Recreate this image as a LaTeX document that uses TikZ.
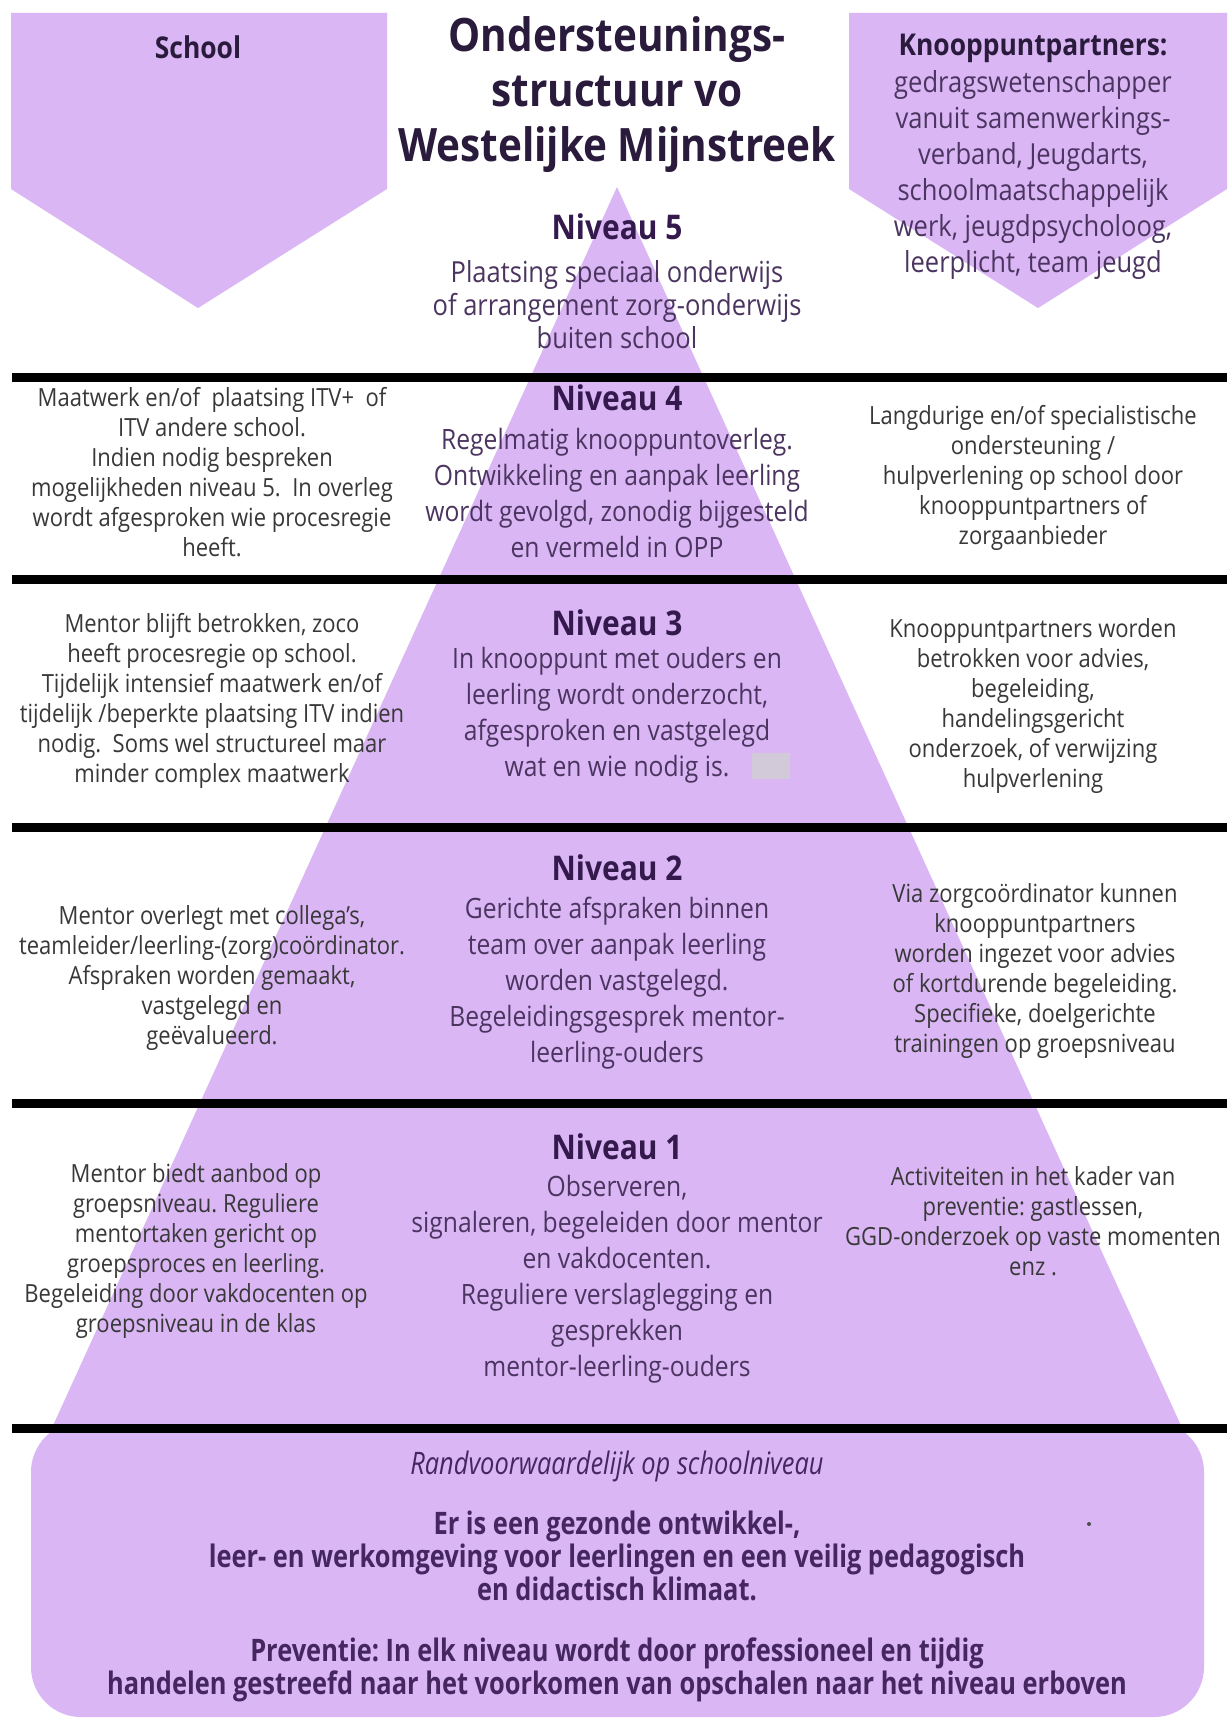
\documentclass[tikz,border=0pt]{standalone}
\usepackage{fontspec}
\setmainfont{Open Sans}[FakeStretch=0.88]
\newfontfamily\condfont{Open Sans}[FakeStretch=0.82]
\definecolor{lav}{HTML}{DAB6F5}
\definecolor{titlec}{HTML}{2A1B3D}
\definecolor{headc}{HTML}{34194D}
\definecolor{centc}{HTML}{4B3560}
\definecolor{sidec}{HTML}{383838}
\definecolor{botc}{HTML}{45265E}
\definecolor{smudge}{HTML}{D2CAD8}
\tikzset{
  lavfill/.style={fill=lav},
  sepline/.style={line width=4.5pt, draw=black},
  sidetxt/.style={align=center, inner sep=0pt, text=sidec, font=\fontsize{12.5}{15}\selectfont},
  cbody/.style={align=center, inner sep=0pt, text=centc, font=\fontsize{14}{18}\selectfont},
  lvl/.style={inner sep=0pt, text=headc, font=\bfseries\fontsize{17}{20}\selectfont},
  hdr/.style={inner sep=0pt, text=titlec, font=\bfseries\fontsize{15}{18}\selectfont},
  bottxt/.style={align=center, inner sep=0pt, text=botc, font=\condfont\bfseries\fontsize{15.5}{16.5}\selectfont}
}
\begin{document}
\frenchspacing
\begin{tikzpicture}[x=0.5pt,y=-0.5pt]
\useasboundingbox (0,0) rectangle (1227,1722);
\fill[white] (0,0) rectangle (1227,1722);
% side arrows
\fill[lavfill] (11,13) -- (387,13) -- (387,189) -- (198,308) -- (11,189) -- cycle;
\fill[lavfill] (849,13) -- (1227,13) -- (1227,189) -- (1038,308) -- (849,189) -- cycle;
% pyramid and base box
\fill[lavfill] (617,187) -- (1183,1430) -- (51,1430) -- cycle;
\fill[lavfill, rounded corners=25pt] (31,1422) rectangle (1204,1717);
% smudges
\fill[smudge] (752,753) rectangle (790,779);
\fill[black!70] (1089,1524) circle (2);
% separator lines
\draw[sepline] (12,377) -- (1227,377);
\draw[sepline] (12,579) -- (1227,579);
\draw[sepline] (12,827) -- (1227,827);
\draw[sepline] (12,1103) -- (1227,1103);
\draw[sepline] (12,1428) -- (1227,1428);
% header texts
\node[align=center, inner sep=0pt, text=titlec, font=\bfseries\fontsize{23}{27.5}\selectfont] (title) at (617,95) {Ondersteunings-\\structuur vo\\Westelijke Mijnstreek};
\node[hdr] (school) at (198,47) {School};
\node[hdr] (kphead) at (1033,48) {Knooppuntpartners:};
\node[align=center, inner sep=0pt, text=centc, font=\fontsize{14.5}{18}\selectfont] (kpbody) at (1033,175) {gedragswetenschapper\\vanuit samenwerkings-\\verband, Jeugdarts,\\schoolmaatschappelijk\\werk, jeugdpsycholoog,\\leerplicht, team jeugd};
% niveau 5
\node[lvl] (n5) at (617,227) {Niveau 5};
\node[cbody, font=\fontsize{14.5}{16.5}\selectfont] (n5c) at (617,305) {Plaatsing speciaal onderwijs\\of arrangement zorg-onderwijs\\buiten school};
% niveau 4
\node[sidetxt] (n4l) at (212,472) {Maatwerk en/of\ \ plaatsing ITV+\ \ of\\ITV andere school.\\Indien nodig bespreken\\mogelijkheden niveau 5.\ \ In overleg\\wordt afgesproken wie procesregie\\heeft.};
\node[lvl] (n4) at (617,398) {Niveau 4};
\node[cbody] (n4c) at (617,493) {Regelmatig knooppuntoverleg.\\Ontwikkeling en aanpak leerling\\wordt gevolgd, zonodig bijgesteld\\en vermeld in OPP};
\node[sidetxt] (n4r) at (1033,478) {Langdurige en/of specialistische\\ondersteuning /\\hulpverlening op school door\\knooppuntpartners of\\zorgaanbieder};
% niveau 3
\node[sidetxt] (n3l) at (212,701) {Mentor blijft betrokken, zoco\\heeft procesregie op school.\\Tijdelijk intensief maatwerk en/of\\tijdelijk /beperkte plaatsing ITV indien\\nodig.\ \ Soms wel structureel maar\\minder complex maatwerk};
\node[lvl] (n3) at (617,623) {Niveau 3};
\node[cbody] (n3c) at (617,715) {In knooppunt met ouders en\\leerling wordt onderzocht,\\afgesproken en vastgelegd\\wat en wie nodig is.};
\node[sidetxt] (n3r) at (1033,706) {Knooppuntpartners worden\\betrokken voor advies,\\begeleiding,\\handelingsgericht\\onderzoek, of verwijzing\\hulpverlening};
% niveau 2
\node[sidetxt] (n2l) at (212,978) {Mentor overlegt met collega's,\\teamleider/leerling-(zorg)coördinator.\\Afspraken worden gemaakt,\\vastgelegd en\\geëvalueerd.};
\node[lvl] (n2) at (617,868) {Niveau 2};
\node[cbody] (n2c) at (617,983) {Gerichte afspraken binnen\\team over aanpak leerling\\worden vastgelegd.\\Begeleidingsgesprek mentor-\\leerling-ouders};
\node[sidetxt] (n2r) at (1035,971) {Via zorgcoördinator kunnen\\knooppuntpartners\\worden ingezet voor advies\\of kortdurende begeleiding.\\Specifieke, doelgerichte\\trainingen op groepsniveau};
% niveau 1
\node[sidetxt] (n1l) at (196,1251) {Mentor biedt aanbod op\\groepsniveau. Reguliere\\mentortaken gericht op\\groepsproces en leerling.\\Begeleiding door vakdocenten op\\groepsniveau in de klas};
\node[lvl] (n1) at (617,1147) {Niveau 1};
\node[cbody] (n1c) at (617,1279) {Observeren,\\signaleren, begeleiden door mentor\\en vakdocenten.\\Reguliere verslaglegging en\\gesprekken\\mentor-leerling-ouders};
\node[sidetxt] (n1r) at (1033,1221) {Activiteiten in het kader van\\preventie: gastlessen,\\GGD-onderzoek op vaste momenten\\enz .};
% base box texts
\node[inner sep=0pt, text=botc, font=\condfont\itshape\fontsize{15.5}{16.5}\selectfont] (rand) at (617,1466) {Randvoorwaardelijk op schoolniveau};
\node[bottxt] (klimaat) at (617,1556) {Er is een gezonde ontwikkel-,\\leer- en werkomgeving voor leerlingen en een veilig pedagogisch\\en didactisch klimaat.};
\node[bottxt] (prev) at (617,1670) {Preventie: In elk niveau wordt door professioneel en tijdig\\handelen gestreefd naar het voorkomen van opschalen naar het niveau erboven};
\end{tikzpicture}
\end{document}
